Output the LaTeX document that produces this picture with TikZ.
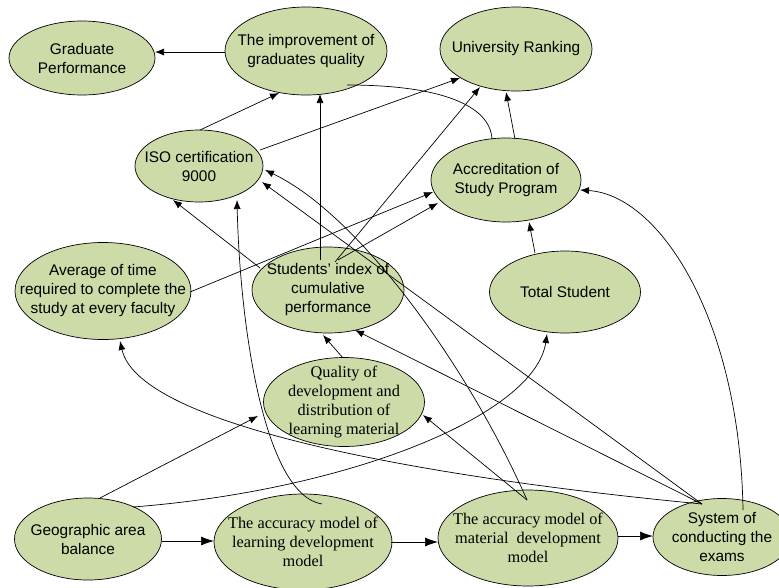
\documentclass[tikz,border=0pt]{standalone}
\usepackage{fontspec}
\setmainfont{Liberation Sans}
\newfontfamily\serifx{Liberation Serif}
\usetikzlibrary{shapes.geometric,arrows.meta}
\definecolor{nodefill}{RGB}{204,219,168}
\begin{document}
\begin{tikzpicture}[x=1pt,y=-1pt,
  ell/.style={ellipse, draw=black, line width=0.7pt, fill=nodefill, inner sep=0pt},
  st/.style={font=\fontsize{15.4}{19}\selectfont, align=center, inner sep=0pt},
  sr/.style={font=\serifx\fontsize{16.3}{19.3}\selectfont, align=center, inner sep=0pt},
  conn/.style={line width=0.7pt, -{Latex[length=9pt,width=7pt]}},
  bigconn/.style={line width=0.7pt, -{Latex[length=13pt,width=9pt]}},
  plainline/.style={line width=0.7pt},
]
\useasboundingbox (0,0) rectangle (779,587);
% nodes
\node[ell, minimum width=146pt, minimum height=74pt, label={[st]center:{Graduate\\Performance}}] (gp) at (82,58) {};
\node[ell, minimum width=162pt, minimum height=88pt, label={[st]center:{The improvement of\\graduates quality}}] (imp) at (306,51) {};
\node[ell, minimum width=152pt, minimum height=84pt, label={[st]center:{University Ranking}}] (ur) at (516,49) {};
\node[ell, minimum width=128pt, minimum height=72pt, label={[st]center:{ISO certification\\9000}}] (iso) at (199,166) {};
\node[ell, minimum width=150pt, minimum height=84pt, label={[st]center:{Accreditation of\\Study Program}}] (acc) at (506,180) {};
\node[ell, minimum width=176pt, minimum height=97pt, label={[st]center:{Average of time\\required to complete the\\study at every faculty}}] (avg) at (103,291) {};
\node[ell, minimum width=152pt, minimum height=86pt, label={[st]center:{Students’ index of\\cumulative\\performance}}] (stu) at (328,290) {};
\node[ell, minimum width=151pt, minimum height=82pt, label={[st]center:{Total Student}}] (tot) at (565,292) {};
\node[ell, minimum width=161pt, minimum height=89pt, label={[sr]center:{Quality of\\development and\\distribution of\\learning material}}] (qua) at (344,402) {};
\node[ell, minimum width=147pt, minimum height=82pt, label={[st]center:{Geographic area\\balance}}] (geo) at (88,539) {};
\node[ell, minimum width=178pt, minimum height=96pt, label={[sr]center:{The accuracy model of\\learning development\\model}}] (lrn) at (303,542) {};
\node[ell, minimum width=180pt, minimum height=96pt, label={[sr]center:{The accuracy model of\\material~ development\\model}}] (mat) at (528,538) {};
\node[ell, minimum width=138pt, minimum height=77pt, label={[st]center:{System of\\conducting the\\exams}}] (sys) at (722,537) {};
% connectors
\draw[conn] ([shift={(-81,1)}]imp.center) -- ([shift={(73,-6)}]gp.center);
\draw[conn] ([shift={(1,-36)}]iso.center) -- ([shift={(-27,42)}]imp.center);
\draw[conn] ([shift={(61,-16)}]iso.center) -- ([shift={(-56,29)}]ur.center);
\draw[conn] ([shift={(-8,-30)}]stu.center) -- ([shift={(14,43)}]imp.center);
\draw[conn] ([shift={(7,-28)}]stu.center) -- ([shift={(-36,38)}]ur.center);
\draw[conn] ([shift={(10,-30)}]stu.center) -- ([shift={(-68,23)}]acc.center);
\draw[conn] ([shift={(87,1)}]avg.center) -- ([shift={(-73,12)}]acc.center);
\draw[conn] ([shift={(9,-41)}]acc.center) -- ([shift={(-10,43)}]ur.center);
\draw[conn] ([shift={(-30,-39)}]tot.center) -- ([shift={(23,42)}]acc.center);
\draw[plainline] ([shift={(41,34)}]imp.center) .. controls (440,85) and (490,105) .. ([shift={(-14,-41)}]acc.center);
\draw[conn] ([shift={(-68,-22)}]stu.center) -- ([shift={(-26,34)}]iso.center);
\draw[conn] ([shift={(-20,-33)}]sys.center) -- ([shift={(63,16)}]iso.center);
\draw[conn] ([shift={(-1,-38)}]mat.center) .. controls (470,370) and (360,215) .. ([shift={(66,4)}]iso.center);
\draw[conn] ([shift={(-20,-33)}]sys.center) -- ([shift={(27,40)}]stu.center);
\draw[conn] ([shift={(-20,-33)}]sys.center) .. controls (450,480) and (140,430) .. ([shift={(17,50)}]avg.center);
\draw[conn] ([shift={(45,-32)}]geo.center) .. controls (350,490) and (535,415) .. ([shift={(-18,42)}]tot.center);
\draw[conn] ([shift={(12,-41)}]geo.center) -- ([shift={(-86,14)}]qua.center);
\draw[conn] ([shift={(19,-38)}]lrn.center) .. controls (265,495) and (240,330) .. ([shift={(38,34)}]iso.center);
\draw[conn] ([shift={(-1,-38)}]mat.center) -- ([shift={(79,13)}]qua.center);
\draw[conn] ([shift={(-1,-44)}]qua.center) -- ([shift={(-5,45)}]stu.center);
\draw[conn] ([shift={(21,-27)}]sys.center) .. controls (740,320) and (660,195) .. ([shift={(74,10)}]acc.center);
\draw[bigconn] ([shift={(74,2)}]geo.center) -- ([shift={(-89,-1)}]lrn.center);
\draw[bigconn] ([shift={(88,0)}]lrn.center) -- ([shift={(-90,4)}]mat.center);
\draw[bigconn] ([shift={(90,-2)}]mat.center) -- ([shift={(-69,-1)}]sys.center);
\end{tikzpicture}
\end{document}
